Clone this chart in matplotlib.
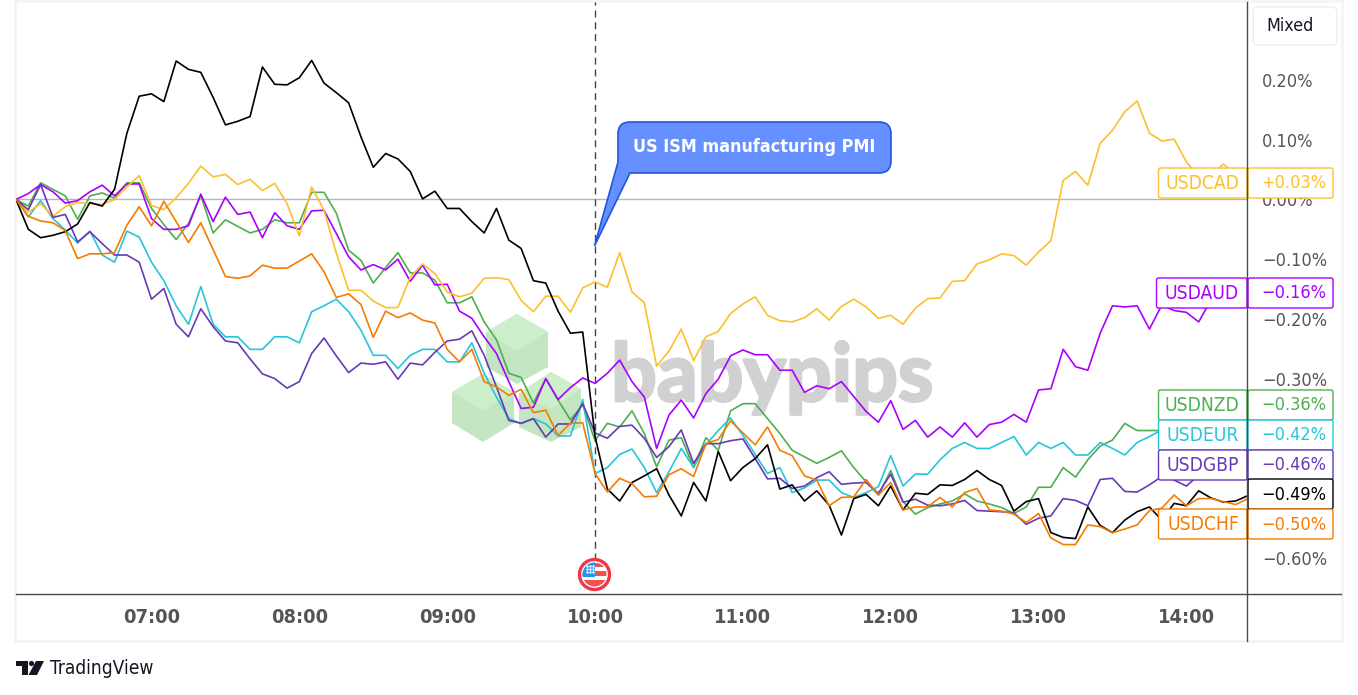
import matplotlib
matplotlib.use('Agg')
import matplotlib.pyplot as plt
import matplotlib.patheffects as pe
import numpy as np
from matplotlib.patches import Circle, FancyBboxPatch, Polygon, Rectangle, PathPatch
from matplotlib.path import Path

W, H = 1358, 695

usdcad = [0, -0.021, -0.007, -0.028, -0.012, -0.005, -0.007, -0.008, 0, 0.021, 0.040, -0.010, -0.017, 0.003, 0.027, 0.056, 0.038, 0.042, 0.025, 0.034,
          0.015, 0.027, -0.007, -0.061, 0.021, -0.018, -0.090, -0.152, -0.152, -0.170, -0.181, -0.181, -0.130, -0.108, -0.124, -0.155, -0.163, -0.157, -0.132, -0.131,
          -0.134, -0.169, -0.188, -0.162, -0.162, -0.189, -0.148, -0.138, -0.147, -0.089, -0.155, -0.173, -0.279, -0.254, -0.217, -0.270, -0.230, -0.221, -0.191, -0.175,
          -0.163, -0.194, -0.203, -0.205, -0.198, -0.183, -0.202, -0.179, -0.167, -0.180, -0.199, -0.194, -0.209, -0.182, -0.166, -0.165, -0.137, -0.136, -0.108, -0.101,
          -0.091, -0.094, -0.110, -0.088, -0.069, 0.032, 0.047, 0.024, 0.094, 0.116, 0.147, 0.165, 0.111, 0.098, 0.101, 0.063, 0.038, 0.041, 0.059, 0.044, 0.030]
usdaud = [0, 0.010, 0.025, 0.013, -0.006, -0.002, 0.013, 0.024, 0.006, 0.026, 0.026, -0.032, -0.050, -0.050, -0.044, 0.009, -0.037, 0.004, -0.025, -0.021,
          -0.064, -0.022, -0.044, -0.050, -0.019, -0.018, -0.057, -0.096, -0.118, -0.109, -0.118, -0.100, -0.137, -0.110, -0.143, -0.142, -0.187, -0.199, -0.230, -0.258,
          -0.305, -0.350, -0.348, -0.300, -0.335, -0.315, -0.299, -0.308, -0.291, -0.269, -0.305, -0.331, -0.417, -0.361, -0.336, -0.366, -0.325, -0.301, -0.262, -0.252,
          -0.260, -0.260, -0.286, -0.286, -0.323, -0.312, -0.317, -0.305, -0.330, -0.355, -0.373, -0.337, -0.385, -0.370, -0.398, -0.381, -0.398, -0.374, -0.398, -0.377,
          -0.373, -0.360, -0.373, -0.319, -0.317, -0.251, -0.280, -0.286, -0.224, -0.178, -0.180, -0.178, -0.217, -0.177, -0.186, -0.189, -0.205, -0.168, -0.165, -0.163, -0.160]
usdnzd = [0, -0.011, 0.028, 0.017, 0.006, -0.033, 0.006, 0.011, 0.002, 0.028, 0.028, -0.015, -0.042, -0.067, -0.040, 0.007, -0.056, -0.034, -0.045, -0.056,
          -0.050, -0.034, -0.039, -0.039, 0.012, 0.012, -0.023, -0.085, -0.102, -0.140, -0.114, -0.089, -0.123, -0.123, -0.135, -0.173, -0.173, -0.163, -0.205, -0.235,
          -0.291, -0.298, -0.341, -0.300, -0.336, -0.369, -0.344, -0.404, -0.375, -0.381, -0.354, -0.392, -0.448, -0.403, -0.399, -0.449, -0.399, -0.420, -0.354, -0.342,
          -0.342, -0.367, -0.392, -0.420, -0.431, -0.442, -0.432, -0.421, -0.449, -0.473, -0.495, -0.454, -0.506, -0.527, -0.516, -0.510, -0.505, -0.493, -0.505, -0.510,
          -0.516, -0.526, -0.515, -0.482, -0.482, -0.449, -0.465, -0.436, -0.413, -0.403, -0.375, -0.387, -0.387, -0.387, -0.375, -0.365, -0.370, -0.365, -0.360, -0.365, -0.360]
usdeur = [0, -0.029, -0.002, -0.032, -0.051, -0.073, -0.053, -0.093, -0.105, -0.053, -0.063, -0.105, -0.136, -0.178, -0.209, -0.146, -0.209, -0.230, -0.230, -0.251,
          -0.251, -0.230, -0.230, -0.240, -0.188, -0.178, -0.167, -0.188, -0.219, -0.261, -0.261, -0.283, -0.261, -0.251, -0.251, -0.272, -0.272, -0.240, -0.291, -0.331,
          -0.367, -0.375, -0.367, -0.376, -0.396, -0.396, -0.335, -0.459, -0.449, -0.427, -0.418, -0.449, -0.491, -0.456, -0.417, -0.449, -0.411, -0.387, -0.366, -0.395,
          -0.427, -0.459, -0.449, -0.491, -0.483, -0.470, -0.470, -0.491, -0.499, -0.491, -0.481, -0.429, -0.480, -0.460, -0.460, -0.436, -0.417, -0.407, -0.417, -0.417,
          -0.407, -0.397, -0.428, -0.407, -0.417, -0.407, -0.428, -0.428, -0.407, -0.417, -0.428, -0.407, -0.397, -0.386, -0.400, -0.410, -0.400, -0.410, -0.420, -0.420, -0.420]
usdgbp = [0, -0.017, 0.025, -0.030, -0.025, -0.071, -0.054, -0.074, -0.093, -0.093, -0.105, -0.167, -0.149, -0.209, -0.230, -0.183, -0.213, -0.237, -0.240, -0.267,
          -0.292, -0.300, -0.316, -0.305, -0.258, -0.232, -0.262, -0.290, -0.274, -0.276, -0.272, -0.301, -0.274, -0.277, -0.256, -0.237, -0.234, -0.220, -0.261, -0.314,
          -0.370, -0.375, -0.367, -0.398, -0.376, -0.376, -0.342, -0.391, -0.400, -0.380, -0.378, -0.400, -0.432, -0.414, -0.386, -0.442, -0.409, -0.409, -0.404, -0.401,
          -0.434, -0.468, -0.467, -0.484, -0.480, -0.466, -0.456, -0.477, -0.475, -0.474, -0.492, -0.460, -0.507, -0.502, -0.512, -0.513, -0.510, -0.504, -0.521, -0.522,
          -0.523, -0.525, -0.544, -0.534, -0.530, -0.501, -0.504, -0.513, -0.469, -0.467, -0.489, -0.490, -0.478, -0.464, -0.470, -0.480, -0.462, -0.455, -0.460, -0.460, -0.460]
usdchf = [0, -0.028, -0.036, -0.039, -0.052, -0.099, -0.091, -0.091, -0.089, -0.043, -0.012, -0.044, -0.003, -0.037, -0.072, -0.039, -0.084, -0.129, -0.132, -0.128,
          -0.110, -0.115, -0.115, -0.103, -0.091, -0.121, -0.164, -0.158, -0.176, -0.231, -0.187, -0.198, -0.190, -0.202, -0.207, -0.251, -0.272, -0.251, -0.305, -0.314,
          -0.328, -0.318, -0.357, -0.353, -0.395, -0.375, -0.374, -0.459, -0.490, -0.467, -0.476, -0.498, -0.497, -0.461, -0.451, -0.464, -0.409, -0.402, -0.371, -0.391,
          -0.411, -0.381, -0.420, -0.429, -0.463, -0.470, -0.513, -0.499, -0.498, -0.469, -0.495, -0.474, -0.520, -0.515, -0.515, -0.499, -0.515, -0.491, -0.484, -0.520,
          -0.522, -0.527, -0.541, -0.526, -0.567, -0.578, -0.578, -0.545, -0.548, -0.558, -0.552, -0.545, -0.521, -0.517, -0.495, -0.513, -0.501, -0.501, -0.506, -0.511, -0.501]
black = [0, -0.050, -0.064, -0.060, -0.054, -0.041, -0.005, -0.011, 0.017, 0.111, 0.173, 0.177, 0.164, 0.232, 0.218, 0.213, 0.171, 0.125, 0.131, 0.139,
         0.222, 0.193, 0.192, 0.204, 0.233, 0.195, 0.179, 0.162, 0.105, 0.054, 0.077, 0.068, 0.047, 0.001, 0.014, -0.015, -0.015, -0.037, -0.056, -0.015,
         -0.068, -0.082, -0.136, -0.140, -0.187, -0.224, -0.222, -0.397, -0.485, -0.505, -0.474, -0.463, -0.451, -0.495, -0.530, -0.474, -0.505, -0.422, -0.471, -0.449,
         -0.434, -0.411, -0.485, -0.478, -0.505, -0.488, -0.512, -0.562, -0.501, -0.494, -0.513, -0.480, -0.520, -0.492, -0.494, -0.478, -0.479, -0.469, -0.454, -0.469,
         -0.479, -0.522, -0.506, -0.501, -0.558, -0.566, -0.568, -0.515, -0.546, -0.558, -0.537, -0.523, -0.515, -0.537, -0.509, -0.513, -0.488, -0.500, -0.507, -0.505, -0.496]

time_ticks = [11, 23, 35, 47, 59, 71, 83, 95]
time_labels = ['07:00', '08:00', '09:00', '10:00', '11:00', '12:00', '13:00', '14:00']
pct_ticks = [0.2, 0.1, 0.0, -0.1, -0.2, -0.3, -0.6]
pct_labels = ['0.20%', '0.10%', '0.00%', '\u22120.10%', '\u22120.20%', '\u22120.30%', '\u22120.60%']

c_cad, c_aud, c_nzd, c_eur, c_gbp, c_chf = '#fbc02d', '#aa00ff', '#4caf50', '#26c6da', '#673ab7', '#f57c00'
GREY = '#555555'

plt.rcParams['font.family'] = ['DejaVu Sans']
plt.rcParams['font.stretch'] = 'condensed'
fig = plt.figure(figsize=(W / 100, H / 100), dpi=100, facecolor='white')


def overlay(z):
    a = fig.add_axes([0, 0, 1, 1], zorder=z)
    a.set_xlim(0, W)
    a.set_ylim(H, 0)
    a.axis('off')
    return a


bg = overlay(0)
bg.add_patch(Rectangle((15, 1), 1327, 640, fc='none', ec='#f4f4f6', lw=2))

# watermark, cubes then wordmark
for v in [[(517, 314), (548, 332), (548, 367), (517, 384), (486, 367), (486, 332)],
          [(483, 374), (514, 392), (514, 423), (483, 442), (452, 423), (452, 392)],
          [(551, 372), (581, 389), (581, 427), (551, 442), (519, 427), (519, 393)]]:
    bg.add_patch(Polygon(v, fc='#c3e5c1', ec='none'))
    cx, top = v[0]
    bg.add_patch(Polygon([v[0], v[1], (cx, top + 37), v[5]], fc='#cdeecb', ec='none'))
bg.text(772, 401, 'babypips', family=['Lato', 'DejaVu Sans'], weight='bold', stretch='normal', fontsize=58,
        color='#d1d1d4', ha='center', va='baseline',
        path_effects=[pe.withStroke(linewidth=2, foreground='#d1d1d4')])

# chart panel: x is the 5 minute bar index, y the percent change
x0, x1, y0, y1 = 16, 1247, 2, 594
ax = fig.add_axes([x0 / W, 1 - y1 / H, (x1 - x0) / W, (y1 - y0) / H], zorder=1)
ax.patch.set_alpha(0)
ax.set_xlim(0, (x1 - x0) / 12.32)
ax.set_ylim((199.5 - y1) / 597, (199.5 - y0) / 597)
for s in ax.spines.values():
    s.set_visible(False)

ax.axhline(0, color='#b2b5be', lw=1)
ax.axvline(47, ymin=(y1 - 560) / (y1 - y0), color='#444444', lw=1, dashes=(5, 3.5))
for series, col in [(usdnzd, c_nzd), (usdeur, c_eur), (usdaud, c_aud), (usdcad, c_cad),
                    (usdgbp, c_gbp), (black, 'black'), (usdchf, c_chf)]:
    ax.plot(np.arange(len(series)), series, color=col, lw=1.2)

ax.yaxis.tick_right()
ax.set_yticks(pct_ticks)
ax.set_yticklabels(pct_labels)
ax.set_xticks(time_ticks)
ax.set_xticklabels(time_labels, fontweight='bold')
ax.tick_params(axis='y', length=0, pad=10.8, labelsize=13, labelcolor=GREY)
ax.tick_params(axis='x', length=0, pad=10, labelsize=14.3, labelcolor=GREY)

fg = overlay(2)
fg.plot([1247, 1247], [2, 641], color='#4a4a4a', lw=1)
fg.plot([16, 1341], [594, 594], color='#4a4a4a', lw=1)

# scale mode button
fg.add_patch(FancyBboxPatch((1253, 7), 84, 38, boxstyle='round,pad=0,rounding_size=5', fc='white', ec='#f0f1f4', lw=1.2))
fg.text(1290, 26, 'Mixed', ha='center', va='center', fontsize=12.8, color='#131722')

# callout with its tail down to the release line
L, R, T, B, r = 618, 891, 122, 173, 12
verts = [(L + r, T), (R - r, T), (R, T), (R, T + r), (R, B - r), (R, B), (R - r, B), (630, B), (594.5, 246),
         (L, 162), (L, T + r), (L, T), (L + r, T), (L + r, T)]
codes = [Path.MOVETO, Path.LINETO, Path.CURVE3, Path.CURVE3, Path.LINETO, Path.CURVE3, Path.CURVE3, Path.LINETO, Path.LINETO,
         Path.LINETO, Path.LINETO, Path.CURVE3, Path.CURVE3, Path.CLOSEPOLY]
fg.add_patch(PathPatch(Path(verts, codes), fc='#6690ff', ec='#2255dd', lw=1.2, joinstyle='miter'))
fg.text(754.5, 147, 'US ISM manufacturing PMI', ha='center', va='center', fontsize=12.9, color='white', fontweight='bold')

# event badge
cx, cy = 594.5, 574.5
fg.add_patch(Circle((cx, cy), 15, fc='white', ec='#f23645', lw=2.4))
clip = Circle((cx, cy), 12, transform=fg.transData)
for y, h, col in [(563, 4, '#ef5350'), (571, 5, '#ef5350'), (580, 7, '#ef5350'), (562, 15, '#2196f3')]:
    w = 12.5 if col == '#2196f3' else 25
    p = fg.add_patch(Rectangle((cx - 12.5, y), w, h, fc=col, ec='none'))
    p.set_clip_path(clip)
fg.scatter(cx + np.array([-8, -5, -2, -8, -5, -2, -8, -5, -2]), cy + np.array([-9, -9, -9, -6, -6, -6, -3, -3, -3]),
           s=3, color='white', linewidths=0, zorder=5)

# price labels at the right edge
labels = [('USDCAD', '+0.03%', c_cad, 168), ('USDAUD', '\u22120.16%', c_aud, 278), ('USDNZD', '\u22120.36%', c_nzd, 390),
          ('USDEUR', '\u22120.42%', c_eur, 420), ('USDGBP', '\u22120.46%', c_gbp, 450), ('', '\u22120.49%', 'black', 479),
          ('USDCHF', '\u22120.50%', c_chf, 509)]
for name, val, col, top in labels:
    h = 30
    if name:
        left = 1156.5 if name == 'USDAUD' else 1158.5
        fg.add_patch(FancyBboxPatch((left, top), 1247 - left, h, boxstyle='round,pad=0,rounding_size=2', fc='white', ec=col, lw=1))
        fg.text(1239, top + h / 2 + 0.5, name, ha='right', va='center', fontsize=13.8, color=col)
    fg.add_patch(FancyBboxPatch((1248, top), 85, h, boxstyle='round,pad=0,rounding_size=2', fc='white', ec=col, lw=1))
    fg.text(1326.5, top + h / 2 + 0.5, val, ha='right', va='center', fontsize=13, color=col)

# footer logo
fg.add_patch(Polygon([(15.5, 661), (28, 661), (28, 675), (22, 675), (22, 666), (15.5, 666)], fc='#131722', ec='none'))
fg.add_patch(Circle((31.5, 663.5), 2.6, fc='#131722', ec='none'))
fg.add_patch(Polygon([(36, 661), (44, 661), (37, 675), (28.5, 675)], fc='#131722', ec='none'))
fg.text(50, 669, 'TradingView', ha='left', va='center', fontsize=13.8, color='#131722')

fig.savefig('out.png', dpi=100)
